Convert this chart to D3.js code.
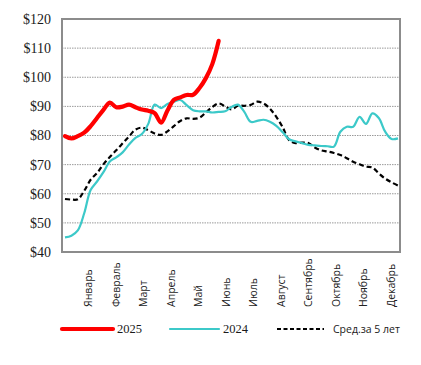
<!DOCTYPE html>
<html>
<head>
<meta charset="utf-8">
<script src="https://cdn.jsdelivr.net/npm/d3@7"></script>
<style>
  html, body { margin: 0; padding: 0; background: #fff; }
  svg { display: block; }
</style>
</head>
<body>
<svg id="chart" width="421" height="365"></svg>
<script>
// ---- Data ----
const months = ["Январь","Февраль","Март","Апрель","Май","Июнь","Июль","Август","Сентябрь","Октябрь","Ноябрь","Декабрь"];
const yTicks = [40, 50, 60, 70, 80, 90, 100, 110, 120];
// weekly values (week index 0..52)
const series2025 = [79.8, 79.0, 79.8, 81.0, 83.2, 86.0, 88.8, 91.3, 89.7, 89.9, 90.6, 89.7, 88.9, 88.5, 87.7, 84.4, 88.6, 92.2, 93.1, 93.9, 94.0, 96.3, 99.7, 104.5, 112.5];
const series2024 = [45.0, 45.6, 47.4, 53.3, 61.3, 64.2, 67.4, 71.1, 72.5, 74.2, 76.9, 79.2, 80.5, 84.0, 90.6, 89.4, 90.8, 91.6, 92.2, 90.4, 88.7, 88.3, 88.3, 87.9, 88.1, 88.3, 89.8, 90.6, 88.1, 84.7, 85.0, 85.4, 84.7, 83.3, 81.1, 78.7, 78.0, 77.4, 76.8, 76.6, 76.4, 76.3, 76.2, 81.3, 83.0, 83.0, 86.4, 84.0, 87.6, 86.0, 81.3, 78.8, 79.0];
const seriesAvg5 = [58.2, 58.0, 58.1, 61.0, 64.8, 67.1, 70.1, 72.6, 74.9, 77.3, 79.7, 82.0, 82.7, 81.8, 80.7, 80.2, 81.4, 83.2, 85.0, 85.9, 85.7, 86.1, 87.9, 89.8, 91.0, 90.0, 89.0, 90.2, 90.2, 90.5, 91.6, 91.0, 89.2, 86.4, 82.8, 78.4, 77.4, 77.6, 77.4, 75.9, 74.9, 74.5, 74.0, 73.3, 72.2, 71.0, 70.1, 69.3, 69.0, 67.0, 65.2, 63.9, 62.8];
const legendLabels = ["2025", "2024", "Сред.за 5 лет"];

// ---- Layout ----
const svg = d3.select("#chart");
const plot = { left: 62, top: 19, right: 400, bottom: 252 };

const x = d3.scaleLinear().domain([0, 52]).range([65, 398]);
const y = d3.scaleLinear().domain([40, 120]).range([plot.bottom, plot.top]);
const xm = d3.scalePoint().domain(months).range([x(3.6), x(50.8)]);

// gridlines
svg.append("g").selectAll("line")
  .data(yTicks.filter(t => t > 40 && t < 120))
  .join("line")
  .attr("x1", plot.left).attr("x2", plot.right)
  .attr("y1", d => y(d)).attr("y2", d => y(d))
  .attr("stroke", "#9a9a9a").attr("stroke-width", 1)
  .attr("stroke-dasharray", "1.5,1");

// y axis
const yAxis = d3.axisLeft(y).tickValues(yTicks).tickSize(0).tickPadding(11)
  .tickFormat(d => "$" + d);
const gy = svg.append("g").attr("transform", `translate(${plot.left},0)`).call(yAxis);
gy.select(".domain").remove();
gy.selectAll("text")
  .attr("font-family", "'Liberation Serif', 'Times New Roman', serif")
  .attr("font-size", 14).attr("fill", "#1a1a1a");

// x labels (months)
const xAxis = d3.axisBottom(xm).tickSize(0);
const gx = svg.append("g").attr("transform", `translate(0,${plot.bottom})`).call(xAxis);
gx.select(".domain").remove();
gx.selectAll("text")
  .attr("font-family", "'Open Sans', 'Noto Sans', sans-serif")
  .attr("font-size", 10.5).attr("fill", "#222")
  .attr("text-anchor", "start")
  .attr("dy", null)
  .attr("y", 0)
  .attr("x", 0)
  .attr("transform", "translate(3.8,55) rotate(-90)");

// lines
const line = d3.line().x((d, i) => x(i)).y(d => y(d)).curve(d3.curveCatmullRom.alpha(0.5));

svg.append("path").datum(seriesAvg5)
  .attr("d", line).attr("fill", "none")
  .attr("stroke", "#000").attr("stroke-width", 2.2)
  .attr("stroke-dasharray", "5,3");

svg.append("path").datum(series2024)
  .attr("d", line).attr("fill", "none")
  .attr("stroke", "#3cc9c9").attr("stroke-width", 2.2)
  .attr("stroke-linejoin", "round");

svg.append("path").datum(series2025)
  .attr("d", line).attr("fill", "none")
  .attr("stroke", "#ff0000").attr("stroke-width", 4.2)
  .attr("stroke-linejoin", "round").attr("stroke-linecap", "round");

// border
svg.append("rect")
  .attr("x", plot.left).attr("y", plot.top)
  .attr("width", plot.right - plot.left).attr("height", plot.bottom - plot.top)
  .attr("fill", "none").attr("stroke", "#8c8c8c").attr("stroke-width", 2);

// legend
const legendItems = [
  { label: legendLabels[0], x1: 62, x2: 113, color: "#ff0000", w: 4.2, dash: null, font: "'Liberation Serif', serif", size: 12.5 },
  { label: legendLabels[1], x1: 170, x2: 219, color: "#3cc9c9", w: 2.2, dash: null, font: "'Liberation Serif', serif", size: 12.5 },
  { label: legendLabels[2], x1: 277, x2: 324, color: "#000", w: 2.2, dash: "4,2.5", font: "'Open Sans', sans-serif", size: 10.5 }
];
const lg = svg.append("g");
legendItems.forEach(it => {
  lg.append("line")
    .attr("x1", it.x1).attr("x2", it.x2).attr("y1", 329).attr("y2", 329)
    .attr("stroke", it.color).attr("stroke-width", it.w)
    .attr("stroke-linecap", it.dash ? "butt" : "round")
    .attr("stroke-dasharray", it.dash);
  lg.append("text")
    .attr("x", it.x2 + (it.dash ? 9 : 4)).attr("y", 333)
    .attr("font-family", it.font).attr("font-size", it.size).attr("fill", "#1a1a1a")
    .text(it.label);
});
</script>
</body>
</html>
